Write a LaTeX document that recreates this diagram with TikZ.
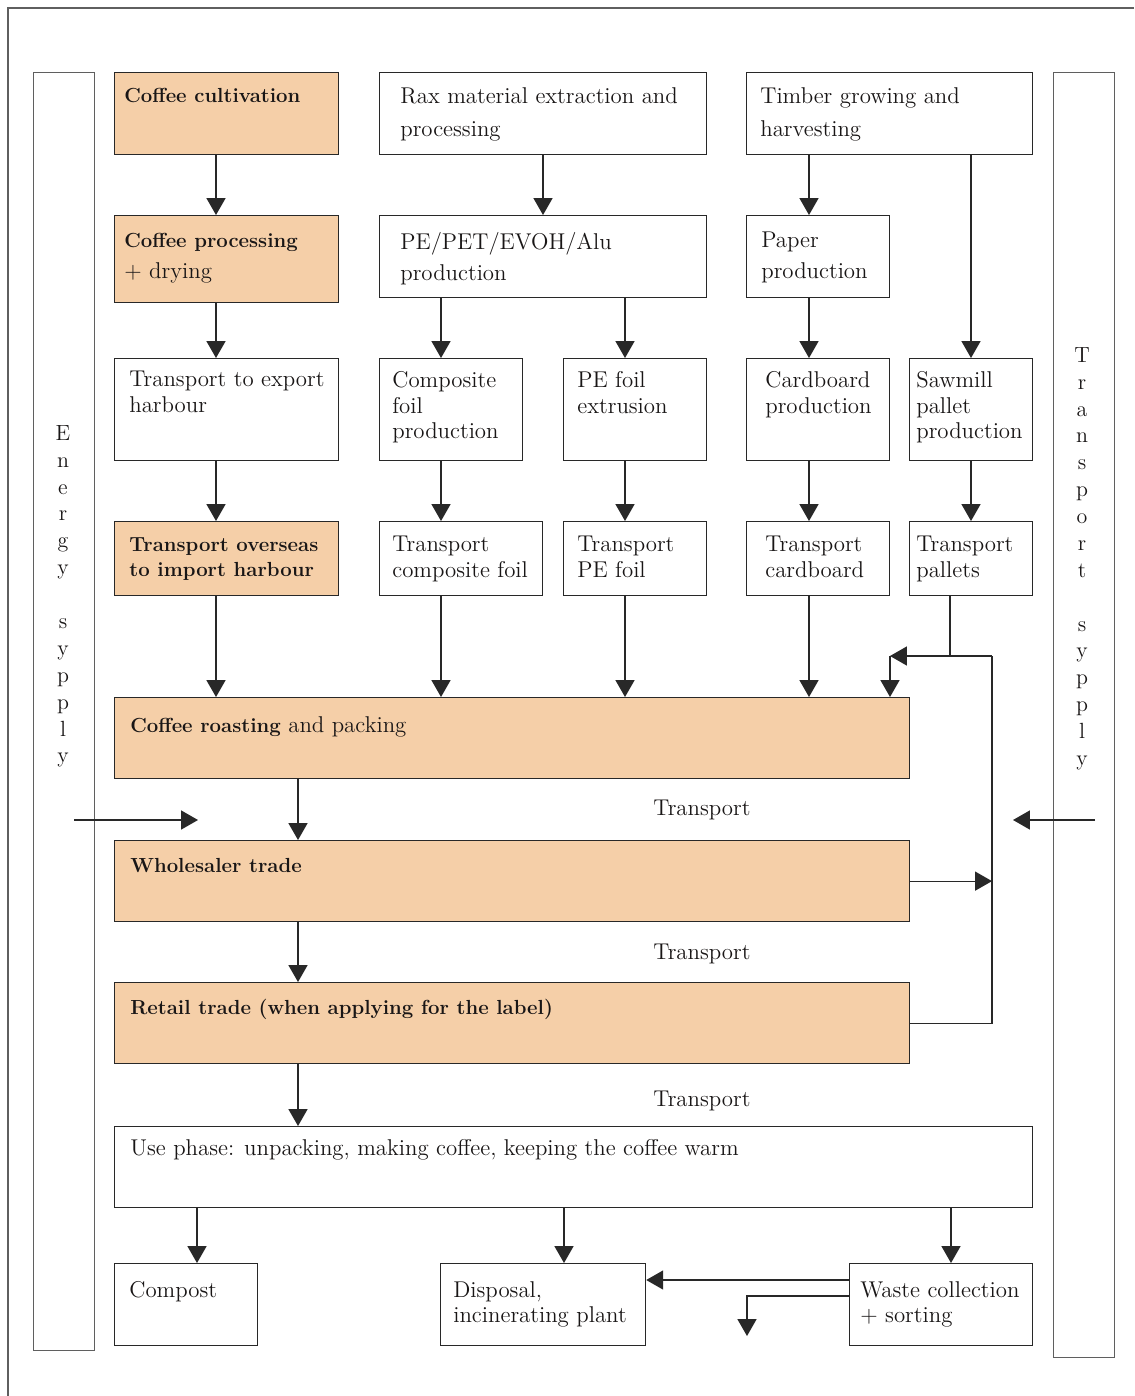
\documentclass[tikz,border=0pt]{standalone}
\usepackage{tikz}
\usetikzlibrary{arrows.meta, positioning, calc}
\definecolor{coffeefill}{RGB}{245, 207, 168}
\definecolor{boxline}{RGB}{40, 40, 40}
\definecolor{frameline}{RGB}{95, 95, 95}
\definecolor{textdark}{RGB}{25, 22, 22}
\newcommand{\bt}[1]{{\fontsize{11.6}{14.6}\selectfont\bfseries #1}}

\begin{document}
\begin{tikzpicture}[
  x=0.02cm, y=-0.02cm,
  boxsize/.style 2 args={minimum width=#1*0.02cm, minimum height=#2*0.02cm},
  box/.style={draw=boxline, line width=0.7pt, anchor=north west, inner sep=0pt},
  coffee/.style={box, fill=coffeefill},
  bar/.style={draw=frameline, line width=0.6pt, anchor=north west, inner sep=0pt},
  txt/.style={anchor=north west, inner sep=0pt, align=left, text=textdark, font=\fontsize{13}{14.6}\selectfont},
  txtmid/.style={txt, font=\fontsize{13}{17.5}\selectfont},
  txtwide/.style={txt, font=\fontsize{13}{18.7}\selectfont},
  stack/.style={anchor=north, inner sep=0pt, align=center, text=textdark, font=\fontsize{12.5}{15.3}\selectfont},
  arr/.style={draw=boxline, line width=0.7pt, -{Triangle[width=10.8pt,length=9.6pt]}},
  link/.style={draw=boxline, line width=0.7pt},
]
  \path[use as bounding box, fill=white] (0,0) rectangle (1134,1396);
  \draw[frameline, line width=0.8pt] (1134,8) -- (8,8) -- (8,1396);

  % supply bars
  \node[bar, boxsize={61}{1278}] (energy) at (33,72) {};
  \node[stack] (energy-t) at (63,425) {E\\n\\e\\r\\g\\y\\[15.3pt]s\\y\\p\\p\\l\\y};
  \node[bar, boxsize={61}{1285}] (supply) at (1053,72) {};
  \node[stack] (supply-t) at (1082,347) {T\\r\\a\\n\\s\\p\\o\\r\\t\\[15.3pt]s\\y\\p\\p\\l\\y};

  % coffee chain
  \node[coffee, boxsize={224}{82}] (cult) at (114,72) {};
  \node[txt] (cult-t) at (124,88) {\bt{Coffee cultivation}};
  \node[coffee, boxsize={224}{87}] (proc) at (114,215) {};
  \node[txtmid] (proc-t) at (124,233) {\bt{Coffee processing}\\+ drying};
  \node[box, boxsize={224}{102}] (texp) at (114,358) {};
  \node[txt] (texp-t) at (129,371) {Transport to export\\harbour};
  \node[coffee, boxsize={224}{74}] (tover) at (114,521) {};
  \node[txt] (tover-t) at (129,537) {\bt{Transport overseas}\\\bt{to import harbour}};

  % packaging materials
  \node[box, boxsize={327}{82}] (raw) at (379,72) {};
  \node[txtwide] (raw-t) at (400,87) {Rax material extraction and\\processing};
  \node[box, boxsize={327}{82}] (pet) at (379,215) {};
  \node[txtmid] (pet-t) at (400,232) {PE/PET/EVOH/Alu\\production};
  \node[box, boxsize={143}{102}] (comp) at (379,358) {};
  \node[txt] (comp-t) at (392,371) {Composite\\foil\\production};
  \node[box, boxsize={163}{74}] (tcomp) at (379,521) {};
  \node[txt] (tcomp-t) at (392,536) {Transport\\composite foil};
  \node[box, boxsize={143}{102}] (pefoil) at (563,358) {};
  \node[txt] (pefoil-t) at (577,371) {PE foil\\extrusion};
  \node[box, boxsize={143}{74}] (tpefoil) at (563,521) {};
  \node[txt] (tpefoil-t) at (577,536) {Transport\\PE foil};

  % timber chain
  \node[box, boxsize={286}{82}] (timber) at (746,72) {};
  \node[txtwide] (timber-t) at (760,87) {Timber growing and\\harvesting};
  \node[box, boxsize={143}{82}] (paper) at (746,215) {};
  \node[txtmid] (paper-t) at (761,232) {Paper\\production};
  \node[box, boxsize={143}{102}] (card) at (746,358) {};
  \node[txt] (card-t) at (765,371) {Cardboard\\production};
  \node[box, boxsize={143}{74}] (tcard) at (746,521) {};
  \node[txt] (tcard-t) at (765,536) {Transport\\cardboard};
  \node[box, boxsize={123}{102}] (saw) at (909,358) {};
  \node[txt] (saw-t) at (916,371) {Sawmill\\pallet\\production};
  \node[box, boxsize={123}{74}] (tpal) at (909,521) {};
  \node[txt] (tpal-t) at (916,536) {Transport\\pallets};

  % main stages
  \node[coffee, boxsize={795}{81}] (roast) at (114,697) {};
  \node[txt] (roast-t) at (130,716) {\bt{Coffee roasting} and packing};
  \node[coffee, boxsize={795}{81}] (whole) at (114,840) {};
  \node[txt] (whole-t) at (130,858) {\bt{Wholesaler trade}};
  \node[coffee, boxsize={795}{81}] (retail) at (114,982) {};
  \node[txt] (retail-t) at (130,999) {\bt{Retail trade (when applying for the label)}};
  \node[box, boxsize={918}{81}] (use) at (114,1126) {};
  \node[txt] (use-t) at (130,1139) {Use phase: unpacking, making coffee, keeping the coffee warm};
  \node[txt, anchor=center] (tr1) at (702,810) {Transport};
  \node[txt, anchor=center] (tr2) at (702,954) {Transport};
  \node[txt, anchor=center] (tr3) at (702,1101) {Transport};

  % end of life
  \node[box, boxsize={143}{82}] (compost) at (114,1263) {};
  \node[txt] (compost-t) at (129,1281) {Compost};
  \node[box, boxsize={205}{82}] (disp) at (440,1263) {};
  \node[txt] (disp-t) at (453,1281) {Disposal,\\incinerating plant};
  \node[box, boxsize={183}{82}] (waste) at (849,1263) {};
  \node[txt] (waste-t) at (860,1281) {Waste collection\\+ sorting};

  % columns of the connectors
  \coordinate (x1) at (216,0);
  \coordinate (x2) at (543,0);
  \coordinate (x3) at (441,0);
  \coordinate (x4) at (625,0);
  \coordinate (x5) at (809,0);
  \coordinate (x6) at (971,0);
  \coordinate (x7) at (298,0);
  \coordinate (b1) at (197,0);
  \coordinate (b2) at (564,0);
  \coordinate (b3) at (951,0);
  \coordinate (pdrop) at (950,656);
  \coordinate (ptop) at (992,656);
  \coordinate (pjoin) at (890,656);
  \coordinate (ein) at (74,820);
  \coordinate (eout) at (198,820);
  \coordinate (sin) at (1095,820);
  \coordinate (sout) at (1013,820);
  \coordinate (wout) at (747,1336);

  \draw[arr] (cult.south -| x1) -- (proc.north -| x1);
  \draw[arr] (proc.south -| x1) -- (texp.north -| x1);
  \draw[arr] (texp.south -| x1) -- (tover.north -| x1);
  \draw[arr] (tover.south -| x1) -- (roast.north -| x1);

  \draw[arr] (raw.south -| x2) -- (pet.north -| x2);
  \draw[arr] (pet.south -| x3) -- (comp.north -| x3);
  \draw[arr] (comp.south -| x3) -- (tcomp.north -| x3);
  \draw[arr] (tcomp.south -| x3) -- (roast.north -| x3);
  \draw[arr] (pet.south -| x4) -- (pefoil.north -| x4);
  \draw[arr] (pefoil.south -| x4) -- (tpefoil.north -| x4);
  \draw[arr] (tpefoil.south -| x4) -- (roast.north -| x4);

  \draw[arr] (timber.south -| x5) -- (paper.north -| x5);
  \draw[arr] (paper.south -| x5) -- (card.north -| x5);
  \draw[arr] (card.south -| x5) -- (tcard.north -| x5);
  \draw[arr] (tcard.south -| x5) -- (roast.north -| x5);
  \draw[arr] (timber.south -| x6) -- (saw.north -| x6);
  \draw[arr] (saw.south -| x6) -- (tpal.north -| x6);

  \draw[link] (tpal.south -| pdrop) -- (pdrop);
  \draw[arr] (ptop) -- (pjoin);
  \draw[arr] (pjoin) -- (roast.north -| pjoin);
  \draw[arr] (whole.east) -- (whole.east -| ptop);
  \draw[link] (retail.east) -| (ptop);

  \draw[arr] (roast.south -| x7) -- (whole.north -| x7);
  \draw[arr] (whole.south -| x7) -- (retail.north -| x7);
  \draw[arr] (retail.south -| x7) -- (use.north -| x7);
  \draw[arr] (ein) -- (eout);
  \draw[arr] (sin) -- (sout);

  \draw[arr] (use.south -| b1) -- (compost.north -| b1);
  \draw[arr] (use.south -| b2) -- (disp.north -| b2);
  \draw[arr] (use.south -| b3) -- (waste.north -| b3);
  \draw[arr] (waste.west |- 0,1280) -- (disp.east |- 0,1280);
  \draw[arr] (waste.west |- 0,1296) -| (wout);
\end{tikzpicture}
\end{document}
